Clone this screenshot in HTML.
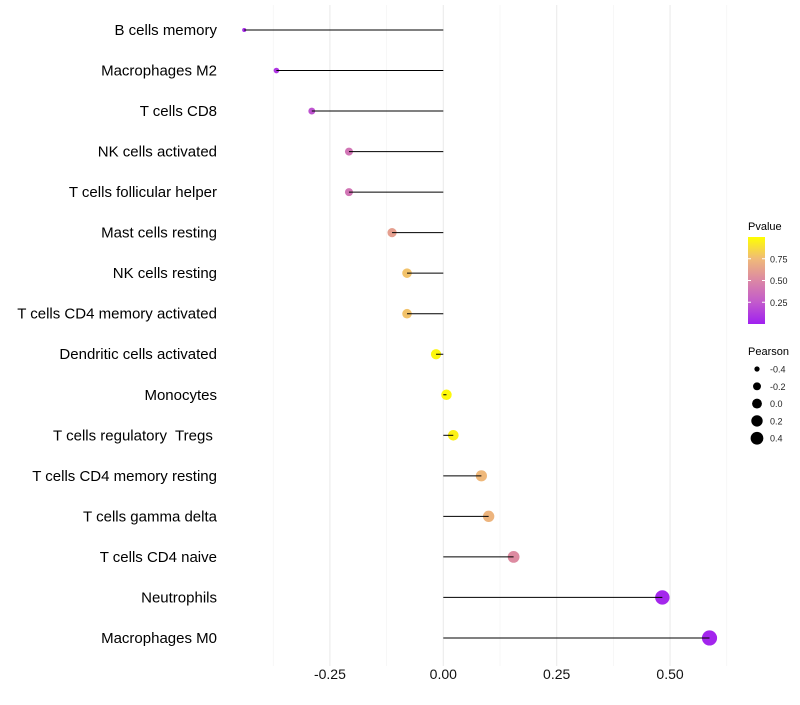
<!DOCTYPE html>
<html><head><meta charset="utf-8"><style>
body{margin:0;background:#fff;font-family:"Liberation Sans",sans-serif;}
</style></head><body>
<svg id="chart" width="800" height="700" xmlns="http://www.w3.org/2000/svg" font-family="Liberation Sans, sans-serif">
<g id="grid"></g>
<g id="marks"></g>
<g id="ylabels"></g>
<g id="xlabels"></g>
<g id="legend">
  <defs><linearGradient id="pg" x1="0" y1="1" x2="0" y2="0">
    <stop offset="0" stop-color="#A020F0"/><stop offset="0.25" stop-color="#C25ACC"/>
    <stop offset="0.5" stop-color="#DB87A5"/><stop offset="0.75" stop-color="#F0BA78"/>
    <stop offset="1" stop-color="#FFFF00"/></linearGradient></defs>
  <text x="748" y="230" font-size="11">Pvalue</text>
  <rect x="748" y="237" width="17" height="87" fill="url(#pg)"/>
  <g id="pticks"></g>
  <text x="748" y="355" font-size="11">Pearson</text>
  <g id="sizeleg"></g>
</g>
</svg>
<script>
const categories=["B cells memory","Macrophages M2","T cells CD8","NK cells activated","T cells follicular helper","Mast cells resting","NK cells resting","T cells CD4 memory activated","Dendritic cells activated","Monocytes","T cells regulatory  Tregs ","T cells CD4 memory resting","T cells gamma delta","T cells CD4 naive","Neutrophils","Macrophages M0"];
const pearson=[-0.439,-0.368,-0.290,-0.208,-0.208,-0.113,-0.080,-0.080,-0.016,0.007,0.022,0.084,0.100,0.155,0.483,0.587];
const pvalue=[0.05,0.10,0.22,0.40,0.40,0.62,0.78,0.78,0.97,0.98,0.95,0.74,0.72,0.52,0.03,0.02];
const xTicks=[-0.25,0,0.25,0.5];
const xTickLabels=["-0.25","0.00","0.25","0.50"];
const pTicks=[0.25,0.5,0.75];
const sizeLegend=[-0.4,-0.2,0,0.2,0.4];

const NS="http://www.w3.org/2000/svg";
const xs=v=>443.3+v*453.5;
const ys=i=>30+i*40.53;
const rad=v=>Math.sqrt(Math.max(2.5,27+52*v));
const stops=[[0,[160,32,240]],[0.25,[194,90,204]],[0.5,[219,135,165]],[0.75,[240,186,120]],[1,[255,255,0]]];
function col(p){for(let k=1;k<stops.length;k++){if(p<=stops[k][0]){const a=stops[k-1],b=stops[k],t=(p-a[0])/(b[0]-a[0]);return "rgb("+a[1].map((c,j)=>Math.round(c+(b[1][j]-c)*t)).join(",")+")";}}return "rgb(255,255,0)";}
function mk(t,at,parent){const e=document.createElementNS(NS,t);for(const k in at)e.setAttribute(k,at[k]);document.getElementById(parent).appendChild(e);return e;}
const yTop=5,yBot=666;
[-0.375,-0.125,0.125,0.375,0.625].forEach(v=>{const l=mk("line",{x1:xs(v),x2:xs(v),y1:yTop,y2:yBot,stroke:"#f2f2f2","stroke-width":0.6},"grid");

});
xTicks.forEach((v,i)=>{const l=mk("line",{x1:xs(v),x2:xs(v),y1:yTop,y2:yBot,stroke:"#ebebeb","stroke-width":1.1},"grid");


const t=mk("text",{x:xs(v),y:679,"text-anchor":"middle","font-size":14,fill:"#111"},"xlabels");t.textContent=xTickLabels[i];

});
categories.forEach((c,i)=>{
const t=mk("text",{x:217,y:ys(i)+5,"text-anchor":"end","font-size":15,fill:"#000",style:"white-space:pre"},"ylabels");t.textContent=c;


const p=mk("circle",{cx:xs(pearson[i]),cy:ys(i),r:rad(pearson[i]),fill:col(pvalue[i])},"marks");


const l=mk("line",{x1:xs(0),x2:xs(pearson[i]),y1:ys(i),y2:ys(i),stroke:"#000","stroke-width":1},"marks");

});
pTicks.forEach(v=>{const yy=324-v*87;
const t=mk("text",{x:770,y:yy+3.5,"font-size":9,fill:"#222"},"pticks");t.textContent=v.toFixed(2);


const a=mk("line",{x1:748,x2:751,y1:yy,y2:yy,stroke:"#fff"},"pticks");


const b=mk("line",{x1:762,x2:765,y1:yy,y2:yy,stroke:"#fff"},"pticks");

});
sizeLegend.forEach((v,i)=>{const yy=369+i*17.3;
const c=mk("circle",{cx:757,cy:yy,r:rad(v)*0.85+0.5,fill:"#000"},"sizeleg");


const t=mk("text",{x:770,y:yy+3.5,"font-size":9,fill:"#222"},"sizeleg");t.textContent=v.toFixed(1);

});
</script>
</body></html>
